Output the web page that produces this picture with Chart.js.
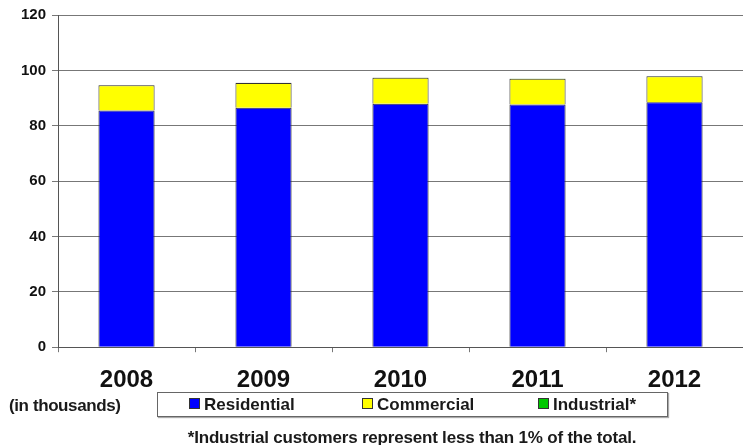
<!DOCTYPE html>
<html>
<head>
<meta charset="utf-8">
<script src="https://cdn.jsdelivr.net/npm/chart.js@4.4.0/dist/chart.umd.min.js"></script>
<style>
  html, body { margin: 0; padding: 0; background: #fff; }
  #wrap { position: relative; width: 743px; height: 445px; font-family: "Liberation Sans", Arial, sans-serif; color: #1a1a1a; }
  #chart { position: absolute; left: 0; top: 0; }
  #units { position: absolute; left: 9px; top: 396px; font-size: 17px; font-weight: bold; letter-spacing: -0.4px; }
  #legend { position: absolute; left: 157px; top: 392px; width: 509px; height: 23px; border: 1px solid #666;
            box-shadow: 1px 1px 1px #aaa; font-size: 17px; font-weight: bold; }
  #legend .item { position: absolute; top: 2px; white-space: nowrap; }
  #legend .box { display: inline-block; width: 9px; height: 9px; border: 1px solid #333; margin-right: 4px; vertical-align: 1px; }
  #note { position: absolute; left: 0; width: 824px; top: 428px; text-align: center; font-size: 17px; font-weight: bold; letter-spacing: -0.2px; }
</style>
</head>
<body>
<div id="wrap">
  <canvas id="chart" width="743" height="445"></canvas>
  <div id="units">(in thousands)</div>
  <div id="legend"></div>
  <div id="note">*Industrial customers represent less than 1% of the total.</div>
</div>
<script>
// customers by class, in thousands
const years       = ['2008', '2009', '2010', '2011', '2012'];
const residential = [85.5, 86.5, 87.9, 87.7, 88.5];
const commercial  = [9.1, 8.9, 9.4, 9.3, 9.4];
const industrial  = [0.1, 0.1, 0.1, 0.1, 0.1];
const yTicks      = [0, 20, 40, 60, 80, 100, 120];

const seriesNames  = ['Residential', 'Commercial', 'Industrial*'];
const seriesColors = ['#0000ff', '#ffff00', '#00c800'];
const legendX      = [31, 204, 380];

const datasets = [residential, commercial, industrial].map((vals, i) => ({
  label: seriesNames[i],
  data: vals,
  backgroundColor: seriesColors[i],
  borderColor: '#333',
  borderWidth: 1,
  borderSkipped: 'bottom',
  barPercentage: 0.41,
  categoryPercentage: 1
}));

new Chart(document.getElementById('chart'), {
  type: 'bar',
  data: { labels: years, datasets },
  options: {
    responsive: false,
    animation: false,
    layout: { padding: { left: 15, right: 0, top: 8, bottom: 36 } },
    plugins: { legend: { display: false }, tooltip: { enabled: false } },
    scales: {
      x: {
        stacked: true,
        offset: true,
        grid: { offset: true, drawOnChartArea: false, color: '#777', tickLength: 5 },
        border: { color: '#555', width: 1 },
        ticks: { color: '#111', padding: 14, font: { family: 'Liberation Sans', size: 24, weight: 'bold' } }
      },
      y: {
        stacked: true,
        min: 0,
        max: 120,
        afterBuildTicks: axis => { axis.ticks = yTicks.map(v => ({ value: v })); },
        grid: { color: '#777', lineWidth: 1, tickLength: 6 },
        border: { color: '#555', width: 1 },
        ticks: { color: '#111', padding: 6, font: { family: 'Liberation Sans', size: 15, weight: 'bold' } }
      }
    }
  }
});

// legend row built from the same series names and colours
const legend = document.getElementById('legend');
seriesNames.forEach((name, i) => {
  const item = document.createElement('div');
  item.className = 'item';
  item.style.left = legendX[i] + 'px';
  item.innerHTML = '<span class="box" style="background:' + seriesColors[i] + '"></span>' + name;
  legend.appendChild(item);
});
</script>
</body>
</html>
